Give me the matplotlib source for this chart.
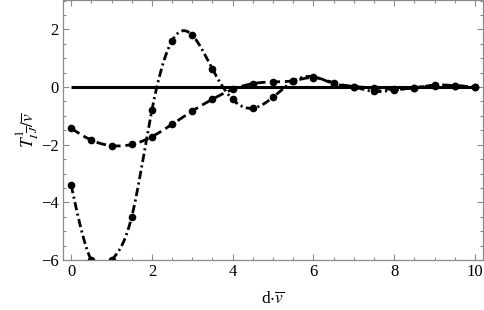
import numpy as np
import matplotlib
matplotlib.use("Agg")
import matplotlib.pyplot as plt
from matplotlib.ticker import MultipleLocator

# sample positions d*v
x = [0.0, 0.5, 1.0, 1.5, 2.0, 2.5, 3.0, 3.5, 4.0, 4.5, 5.0,
     5.5, 6.0, 6.5, 7.0, 7.5, 8.0, 8.5, 9.0, 9.5, 10.0]

# dashed series (shallow)
t_dashed = [-1.43, -1.84, -2.03, -1.99, -1.72, -1.29, -0.83, -0.42, -0.08, 0.12, 0.18,
            0.22, 0.33, 0.15, 0.02, -0.03, -0.08, -0.02, 0.05, 0.05, 0.0]

# dash-dot series (strongly oscillating)
t_dashdot = [-3.40, -6.0, -6.0, -4.5, -0.80, 1.61, 1.80, 0.62, -0.43, -0.73, -0.35,
             0.20, 0.36, 0.12, 0.0, -0.15, -0.10, -0.03, 0.07, 0.05, 0.0]

zero_x = [0.0, 10.0]
zero_y = [0.0, 0.0]


def natural_spline(xs, ys, n=800):
    """Natural cubic spline through the points, for a smooth joining curve."""
    xs = np.asarray(xs, float)
    ys = np.asarray(ys, float)
    m = len(xs)
    h = np.diff(xs)
    A = np.zeros((m, m))
    b = np.zeros(m)
    A[0, 0] = A[-1, -1] = 1.0
    for i in range(1, m - 1):
        A[i, i - 1] = h[i - 1]
        A[i, i] = 2 * (h[i - 1] + h[i])
        A[i, i + 1] = h[i]
        b[i] = 3 * ((ys[i + 1] - ys[i]) / h[i] - (ys[i] - ys[i - 1]) / h[i - 1])
    c = np.linalg.solve(A, b)
    xf = np.linspace(xs[0], xs[-1], n)
    idx = np.clip(np.searchsorted(xs, xf) - 1, 0, m - 2)
    dx = xf - xs[idx]
    bb = (ys[idx + 1] - ys[idx]) / h[idx] - h[idx] * (2 * c[idx] + c[idx + 1]) / 3
    dd = (c[idx + 1] - c[idx]) / (3 * h[idx])
    yf = ys[idx] + bb * dx + c[idx] * dx ** 2 + dd * dx ** 3
    return xf, yf


plt.rcParams["font.family"] = ["Liberation Serif", "DejaVu Serif"]
plt.rcParams["mathtext.fontset"] = "stix"
plt.rcParams["lines.scale_dashes"] = False

fig = plt.figure(figsize=(4.85, 3.10), dpi=100)
ax = fig.add_axes([0.130, 0.161, 0.866, 0.839])

ax.plot(zero_x, zero_y, color="black", lw=2.2, solid_capstyle="butt")

xs, ys = natural_spline(x, t_dashed)
ax.plot(xs, ys, color="black", lw=2.0, dashes=(7, 3.5))
ax.plot(x, t_dashed, "o", color="black", ms=4.5)

xs, ys = natural_spline(x, t_dashdot)
ax.plot(xs, ys, color="black", lw=2.0, dashes=(6, 2.5, 1.5, 2.5))
ax.plot(x, t_dashdot, "o", color="black", ms=4.5)

ax.set_xlim(-0.2, 10.2)
ax.set_ylim(-6, 3.02)
ax.xaxis.set_major_locator(MultipleLocator(2))
ax.xaxis.set_minor_locator(MultipleLocator(0.5))
ax.yaxis.set_major_locator(MultipleLocator(2))
ax.yaxis.set_minor_locator(MultipleLocator(0.5))
ax.tick_params(which="both", direction="in", top=True, right=True,
               color="#8a8a8a", width=0.8, labelsize=12, pad=3)
ax.tick_params(which="major", length=4)
ax.tick_params(which="minor", length=2)
for s in ax.spines.values():
    s.set_color("#8a8a8a")
    s.set_linewidth(0.9)

ax.set_xlabel(r"d$\cdot\overline{v}$", fontsize=12.5, labelpad=8)
ax.set_ylabel(r"$T^{1}_{I\,\overline{J}}/\overline{v}$", fontsize=12.5, labelpad=0)

fig.savefig("out.png", dpi=100)
